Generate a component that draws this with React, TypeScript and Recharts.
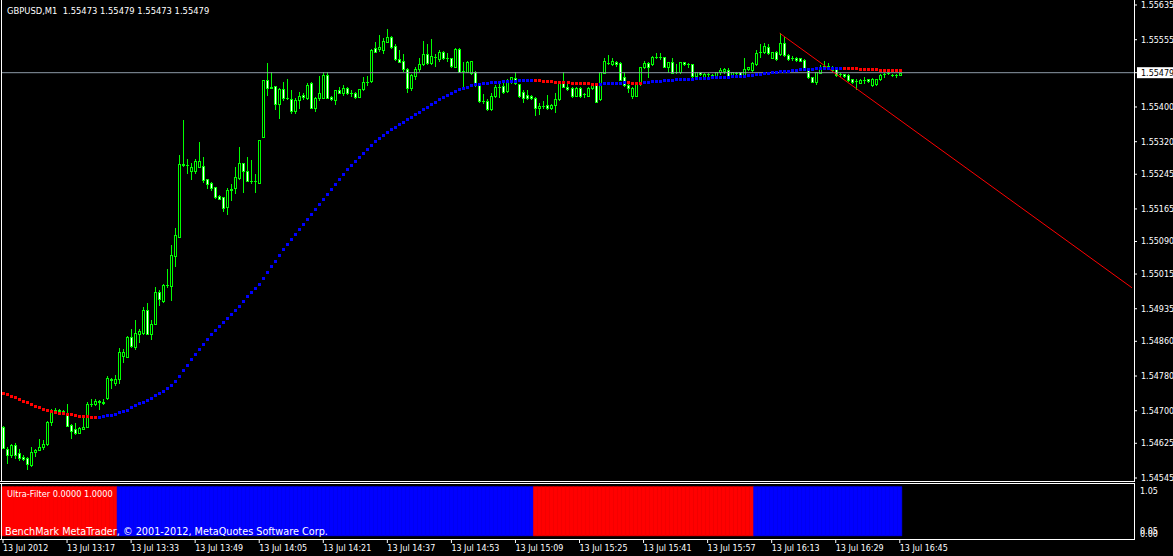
import { Bar, BarChart, Cell, ComposedChart, Line, ReferenceLine, XAxis, YAxis } from 'recharts'

// GBPUSD M1, 13 Jul 2012 13:01 .. 16:45, prices in points (154663 = 1.54663)
const openPts = [154663,154612,154599,154621,154603,154594,154592,154576,154606,154610,154617,154624,154674,154700,154702,154700,154695,154667,154658,154649,154658,154663,154716,154716,154723,154720,154730,154771,154764,154773,154826,154824,154870,154847,154877,154879,154932,154877,154900,154974,154953,154990,154988,155057,155100,155269,155266,155252,155252,155262,155264,155234,155225,155216,155195,155193,155170,155209,155213,155236,155271,155252,155229,155229,155225,155331,155462,155444,155448,155407,155441,155421,155418,155391,155416,155428,155421,155455,155398,155421,155421,155474,155423,155416,155439,155432,155443,155433,155433,155424,155441,155457,155461,155535,155534,155531,155550,155561,155540,155510,155506,155488,155443,155472,155487,155498,155521,155501,155515,155510,155527,155513,155513,155493,155534,155483,155481,155478,155481,155452,155414,155414,155395,155425,155447,155448,155437,155457,155466,155452,155435,155428,155426,155421,155397,155403,155405,155397,155405,155418,155457,155447,155443,155426,155443,155431,155426,155443,155451,155418,155479,155502,155498,155504,155501,155468,155451,155426,155426,155452,155491,155501,155498,155515,155515,155515,155491,155503,155480,155480,155503,155498,155498,155472,155480,155467,155475,155473,155470,155480,155484,155485,155472,155478,155480,155474,155487,155485,155498,155526,155526,155539,155514,155527,155521,155547,155520,155514,155514,155513,155508,155485,155468,155457,155479,155495,155489,155493,155488,155475,155475,155474,155464,155461,155456,155462,155464,155451,155452,155464,155475,155478,155474,155474,155473]
const highPts = [154665,154617,154624,154626,154612,154599,154594,154617,154612,154635,154633,154676,154704,154707,154704,154702,154716,154670,154672,154663,154688,154720,154727,154727,154725,154727,154780,154776,154783,154845,154843,154872,154889,154909,154889,154939,154948,154909,154985,154978,154992,155027,155082,155121,155289,155370,155280,155271,155280,155319,155285,155234,155227,155216,155197,155193,155213,155222,155262,155308,155271,155285,155278,155246,155324,155462,155501,155481,155448,155444,155458,155464,155439,155421,155435,155432,155455,155458,155423,155471,155481,155481,155425,155439,155447,155451,155445,155439,155435,155441,155470,155472,155534,155549,155566,155560,155580,155564,155544,155531,155521,155489,155475,155491,155512,155552,155544,155557,155521,155531,155529,155524,155514,155535,155535,155504,155506,155507,155483,155454,155429,155418,155432,155451,155454,155457,155465,155470,155481,155454,155439,155439,155427,155424,155409,155414,155428,155406,155432,155457,155481,155458,155445,155445,155447,155432,155445,155452,155453,155481,155512,155520,155514,155507,155503,155480,155454,155447,155454,155493,155506,155503,155518,155524,155524,155516,155504,155514,155498,155504,155504,155501,155500,155481,155481,155478,155478,155475,155481,155489,155489,155489,155481,155481,155481,155514,155493,155503,155531,155544,155547,155544,155527,155528,155570,155562,155521,155518,155516,155514,155510,155488,155470,155481,155497,155506,155501,155495,155489,155478,155476,155475,155465,155465,155464,155468,155465,155466,155465,155475,155479,155480,155477,155477,155479]
const lowPts = [154614,154580,154594,154592,154587,154587,154566,154573,154596,154610,154612,154621,154667,154695,154697,154695,154665,154637,154647,154649,154658,154663,154711,154713,154704,154716,154727,154753,154760,154764,154813,154824,154847,154843,154859,154877,154877,154866,154900,154944,154951,154985,154955,155034,155100,155264,155248,155234,155248,155262,155227,155213,155209,155190,155188,155160,155153,155186,155202,155234,155204,155229,155225,155204,155225,155331,155428,155444,155395,155375,155416,155418,155386,155386,155398,155418,155418,155397,155391,155416,155420,155420,155416,155407,155432,155428,155430,155426,155421,155423,155439,155451,155457,155527,155530,155524,155549,155535,155508,155503,155483,155435,155439,155464,155483,155497,155499,155498,155495,155506,155511,155506,155493,155492,155481,155449,155480,155477,155449,155412,155409,155393,155393,155424,155424,155432,155435,155455,155452,155424,155412,155418,155419,155382,155383,155397,155395,155395,155389,155415,155445,155439,155424,155425,155424,155424,155425,155442,155411,155415,155479,155500,155497,155495,155462,155449,155435,155420,155425,155451,155489,155470,155497,155512,155511,155491,155481,155478,155478,155478,155497,155491,155470,155470,155474,155466,155467,155470,155467,155475,155478,155470,155470,155474,155473,155470,155486,155484,155497,155516,155524,155522,155512,155509,155520,155518,155508,155508,155507,155505,155488,155466,155457,155452,155478,155489,155488,155484,155472,155472,155470,155461,155455,155441,155455,155455,155458,155449,155451,155463,155470,155475,155471,155470,155473]
const closePts = [154614,154599,154621,154599,154592,154589,154578,154606,154610,154617,154624,154674,154700,154702,154700,154697,154665,154654,154649,154660,154663,154716,154716,154723,154720,154718,154776,154773,154773,154836,154836,154870,154849,154879,154884,154932,154877,154900,154974,154958,154990,154990,155059,155105,155269,155266,155266,155262,155276,155276,155232,155222,155213,155193,155188,155167,155209,155211,155239,155271,155252,155229,155229,155229,155324,155462,155444,155446,155407,155441,155421,155421,155391,155416,155425,155423,155451,155398,155421,155432,155474,155421,155418,155439,155433,155444,155432,155433,155424,155441,155457,155458,155531,155527,155539,155552,155561,155539,155510,155504,155487,155443,155474,155488,155498,155521,155501,155518,155515,155527,155513,155514,155495,155534,155481,155483,155503,155506,155451,155414,155414,155395,155426,155445,155447,155435,155458,155468,155455,155426,155421,155421,155420,155397,155403,155403,155397,155405,155418,155456,155447,155441,155426,155443,155426,155431,155443,155451,155412,155480,155506,155502,155506,155498,155462,155451,155444,155444,155452,155491,155501,155492,155516,155515,155516,155493,155503,155479,155480,155503,155498,155498,155472,155480,155475,155475,155475,155472,155480,155485,155487,155472,155480,155478,155474,155488,155491,155501,155525,155526,155541,155524,155526,155510,155547,155520,155511,155514,155508,155506,155489,155468,155458,155480,155493,155495,155495,155485,155474,155475,155471,155462,155457,155461,155462,155462,155459,155464,155464,155474,155475,155478,155474,155474,155479]

// moving average (dotted, red while falling, blue while rising)
const maPts = [154741,154739,154734,154732,154727,154723,154720,154716,154711,154709,154704,154702,154700,154697,154695,154694,154693,154692,154690,154689,154688,154687,154686,154685,
  154686,154688,154690,154691,154693,154697,154700,154702,154709,154713,154718,154720,154725,154730,154736,154741,154746,154753,154760,154769,154780,154794,154806,154819,154831,154842,154854,154865,154877,154886,154895,154905,154914,154923,154932,154941,154953,154964,154974,154983,154992,155006,155020,155034,155045,155059,155073,155084,155096,155107,155119,
  155130,155142,155153,155165,155176,155188,155199,155211,155223,155234,155246,155257,155266,155276,155285,155294,155303,155312,155322,155329,155335,155342,155349,155354,155361,
  155365,155372,155377,155384,155388,155395,155400,155407,155411,155418,155423,155428,155432,155437,155441,155444,155446,
  155450.7,155452.3,155453.4,155454.6,155455.5,155456.4,155457.3,155458.3,155459.0,155459.6,155460.3,155461.0,155461.5,155461.9,155462.2,155462.4,
  155461.9,155461.2,155460.6,155459.9,155459.2,155458.4,155457.8,155457.1,155456.4,155456.0,155455.5,155455.0,155454.6,155454.1,155453.7,155453.2,
  155453.7,155454.1,155454.6,155455.0,155455.5,155456.0,155456.4,
  155456.4,155456.2,155456.1,155456.0,
  155457.1,155458.3,155459.2,155459.9,155460.8,155461.5,155462.2,155462.9,155463.6,155464.3,155464.7,155465.2,155465.6,155466.1,155466.6,155467.0,155467.5,155468.0,155468.4,155468.9,155469.3,155469.8,155470.3,155470.7,155471.4,155472.1,155473.0,155473.9,155474.9,155476.0,155477.2,155478.3,155479.5,155480.6,155481.8,155482.9,155483.8,155484.8,155485.7,155486.4,155487.1,155487.8,155488.4,155488.9,155489.4,155489.8,155490.1,155490.3,155490.5,155490.7,
  155490.3,155489.8,155489.4,155488.9,155488.4,155488.0,155487.5,155487.1,155486.6,155486.1,155485.7,155485.4,155485.2,155485.0,155484.8]
const maRuns: [string, number][] = [['red', 24], ['blue', 109], ['red', 16], ['blue', 7], ['red', 4], ['blue', 50], ['red', 15]]

// Ultra-Filter indicator state per bar
const filterRuns: [string, number][] = [['red', 29], ['blue', 104], ['red', 55], ['blue', 37]]

const timeLabels = ['13 Jul 2012', '13 Jul 13:17', '13 Jul 13:33', '13 Jul 13:49', '13 Jul 14:05', '13 Jul 14:21', '13 Jul 14:37', '13 Jul 14:53', '13 Jul 15:09', '13 Jul 15:25', '13 Jul 15:41', '13 Jul 15:57', '13 Jul 16:13', '13 Jul 16:29', '13 Jul 16:45']
const priceTicks = [1.55635, 1.55555, 1.55479, 1.554, 1.5532, 1.55245, 1.55165, 1.5509, 1.55015, 1.54935, 1.5486, 1.5478, 1.547, 1.54625, 1.54545]
const lastPrice = 1.55479
const trendAnchors = [{ i: 194, price: 1.5557 }, { i: 224, price: 1.5537 }]

const TOTAL_SLOTS = 283 // includes empty bars of the chart shift
const TICK_STEP = 16
const COLORS: Record<string, string> = { red: '#ff0000', blue: '#0000ff' }
const GREEN = '#00ff00'
const FONT = 'DejaVu Sans, sans-serif'

const expand = (runs: [string, number][]) => runs.flatMap(([c, n]) => Array(n).fill(c))
const maColors = expand(maRuns)
const filterColors = expand(filterRuns)

const data = Array.from({ length: TOTAL_SLOTS }, (_, i) => {
  if (i >= closePts.length) return { i }
  return {
    i,
    range: [lowPts[i] / 1e5, highPts[i] / 1e5],
    open: openPts[i] / 1e5,
    close: closePts[i] / 1e5,
    ma: maPts[i] / 1e5,
    maColor: COLORS[maColors[i]],
    uf: 1,
    ufColor: COLORS[filterColors[i]],
  }
})

// trend line continues as a ray to the last slot
const slope = (trendAnchors[1].price - trendAnchors[0].price) / (trendAnchors[1].i - trendAnchors[0].i)
const trendEnd = { x: TOTAL_SLOTS - 1, y: trendAnchors[0].price + slope * (TOTAL_SLOTS - 1 - trendAnchors[0].i) }

function Candle(props: any) {
  const { x, y, width, height, payload } = props
  if (!payload || payload.open == null) return <g />
  const [lo, hi] = payload.range
  const toY = (v: number) => (hi === lo ? y : y + ((hi - v) / (hi - lo)) * height)
  const cx = Math.round(x + width / 2)
  const yo = toY(payload.open)
  const yc = toY(payload.close)
  const top = Math.round(Math.min(yo, yc))
  const bot = Math.round(Math.max(yo, yc))
  const bull = payload.close > payload.open
  return (
    <g>
      <line x1={cx + 0.5} x2={cx + 0.5} y1={Math.round(y)} y2={Math.round(y + height) + 1} stroke={GREEN} strokeWidth={1} />
      {bot - top < 1 ? (
        <line x1={cx - 1} x2={cx + 2} y1={top + 0.5} y2={top + 0.5} stroke={GREEN} strokeWidth={1} />
      ) : (
        <rect x={cx - 0.5} y={top + 0.5} width={2} height={bot - top} fill={bull ? '#000' : '#fff'} stroke={GREEN} strokeWidth={1} />
      )}
    </g>
  )
}

function MaDot(props: any) {
  const { cx, cy, payload, index } = props
  if (cy == null || !payload || payload.ma == null) return <g key={`d${index}`} />
  return <rect key={`d${index}`} x={Math.round(cx) - 1} y={Math.round(cy) - 1} width={3} height={3} fill={payload.maColor} />
}

function PriceTick(props: any) {
  const { x, y, payload } = props
  const v = payload.value as number
  const label = v.toFixed(5)
  if (Math.abs(v - lastPrice) < 1e-9) {
    return (
      <g>
        <rect x={x - 4} y={y - 5.5} width={40} height={11} fill='#fff' />
        <text x={x} y={y} dy='0.36em' fill='#000' fontSize={8} fontFamily={FONT}>{label}</text>
      </g>
    )
  }
  return <text x={x} y={y} dy='0.36em' fill='#fff' fontSize={8} fontFamily={FONT}>{label}</text>
}

function FilterTick(props: any) {
  const { x, y, payload } = props
  const v = payload.value as number
  return <text x={x} y={y} dy={v >= 1 ? 9.8 : 1} fill='#fff' fontSize={8} fontFamily={FONT}>{v.toFixed(2)}</text>
}

function TimeTick(props: any) {
  const { x, y, payload } = props
  const label = timeLabels[Math.round(payload.value / TICK_STEP)]
  return <text x={x} y={y} dy='0.72em' fill='#fff' fontSize={8} fontFamily={FONT}>{label}</text>
}

const timeTicks = timeLabels.map((_, k) => k * TICK_STEP)

export default function App() {
  return (
    <div style={{ position: 'fixed', left: 0, top: 0, width: 1173, height: 556, background: '#000', overflow: 'hidden' }}>
      <div style={{ position: 'absolute', left: 0, top: 0 }}>
        <ComposedChart width={1173} height={482} data={data} margin={{ top: 1, right: 0, bottom: 1, left: 1 }} barCategoryGap={0}>
          <XAxis dataKey='i' type='category' hide />
          <YAxis orientation='right' width={39} type='number' domain={[1.545381, 1.556442]} allowDataOverflow
            ticks={priceTicks} interval={0} tick={PriceTick} tickSize={3} tickMargin={4}
            tickLine={{ stroke: '#fff' }} axisLine={false} />
          <ReferenceLine y={lastPrice} stroke='#8d9aa8' strokeWidth={1} />
          <Bar dataKey='range' shape={Candle} isAnimationActive={false} />
          <Line dataKey='ma' stroke='none' dot={MaDot} activeDot={false} isAnimationActive={false} />
          <ReferenceLine
            segment={[{ x: trendAnchors[0].i, y: trendAnchors[0].price }, trendEnd]}
            stroke='#ff0000' strokeWidth={1} />
        </ComposedChart>
      </div>
      <div style={{ position: 'absolute', left: 0, top: 482 }}>
        <BarChart width={1173} height={74} data={data} margin={{ top: 1, right: 0, bottom: 0, left: 1 }} barCategoryGap={0}>
          <XAxis dataKey='i' type='category' height={17} ticks={timeTicks} interval={0} tick={TimeTick}
            tickSize={4} tickMargin={2} tickLine={{ stroke: '#fff' }} axisLine={false} />
          <YAxis orientation='right' width={39} type='number' domain={[-0.065, 1.075]} allowDataOverflow
            ticks={[0, 0.05, 1.05]} interval={0} tick={FilterTick} tickSize={2} tickMargin={4} tickLine={false} axisLine={false} />
          <Bar dataKey='uf' isAnimationActive={false}>
            {data.map((d: any) => (
              <Cell key={d.i} fill={d.ufColor} stroke={d.ufColor} strokeWidth={0.6} />
            ))}
          </Bar>
        </BarChart>
      </div>
      <svg width={1173} height={556} style={{ position: 'absolute', left: 0, top: 0, pointerEvents: 'none' }}>
        <g stroke='#fff' strokeWidth={1}>
          <line x1={1.5} x2={1.5} y1={0} y2={482} />
          <line x1={1134.5} x2={1134.5} y1={0} y2={482} />
          <line x1={0} x2={1135} y1={481.5} y2={481.5} />
          <line x1={0} x2={1135} y1={483.5} y2={483.5} />
          <line x1={1.5} x2={1.5} y1={483} y2={540} />
          <line x1={1134.5} x2={1134.5} y1={483} y2={540} />
          <line x1={0} x2={1135} y1={539.5} y2={539.5} />
        </g>
        <text x={7} y={13.5} fill='#fff' fontSize={8.4} fontFamily={FONT} xmlSpace='preserve'>GBPUSD,M1  1.55473 1.55479 1.55473 1.55479</text>
        <text x={7} y={497} fill='#fff' fontSize={8.2} fontFamily={FONT}>Ultra-Filter 0.0000 1.0000</text>
        <text x={5} y={535} fill='#fff' fontSize={9.7} fontFamily={FONT}>BenchMark MetaTrader, © 2001-2012, MetaQuotes Software Corp.</text>
      </svg>
    </div>
  )
}
